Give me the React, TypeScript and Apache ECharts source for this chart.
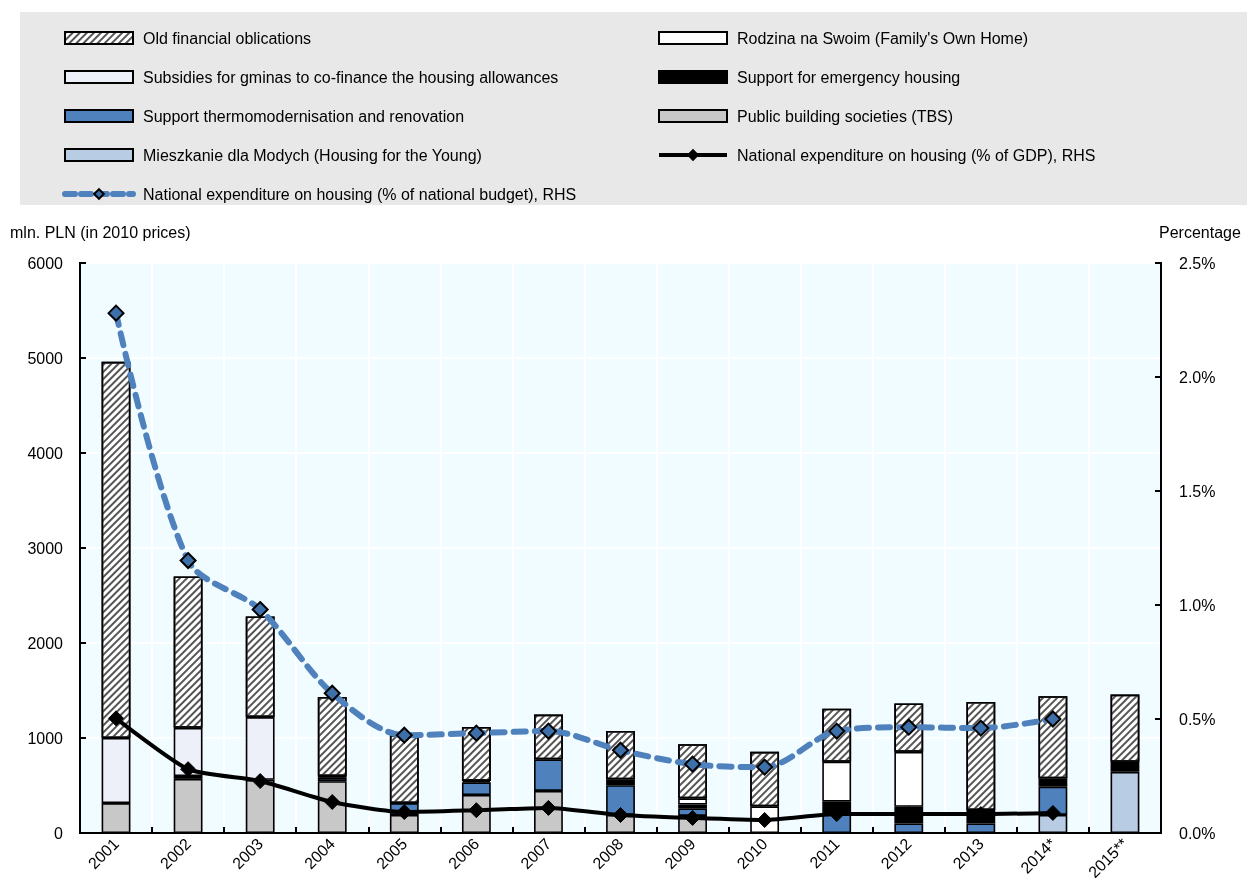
import React, { useEffect, useRef } from "react";
import * as echarts from "echarts";

const categories = ["2001", "2002", "2003", "2004", "2005", "2006", "2007", "2008", "2009", "2010", "2011", "2012", "2013", "2014*", "2015**"];

const tbs = [315, 570, 560, 545, 190, 400, 443, 190, 180, null, null, null, null, null, null];
const mieszkanie = [null, null, null, null, null, null, null, null, null, null, null, null, null, 190, 644];
const thermo = [null, 30, null, 35, 125, 133, 331, 313, 80, null, 220, 100, 100, 297, null];
const emergency = [null, null, null, null, null, null, null, 63, 40, null, 110, 176, 142, 88, 105];
const rodzina = [null, null, null, null, null, null, null, null, 64, 280, 420, 578, null, null, null];
const subsidies = [685, 507, 660, 20, null, 15, null, null, null, null, null, null, null, null, null];
const oldObligations = [3960, 1593, 1060, 832, 715, 569, 473, 509, 571, 574, 558, 509, 1138, 865, 708];

const pctGDP = [0.503, 0.28, 0.228, 0.136, 0.092, 0.1, 0.11, 0.079, 0.066, 0.057, 0.083, 0.083, 0.083, 0.088, null];
const pctBudget = [2.28, 1.195, 0.98, 0.613, 0.429, 0.438, 0.447, 0.363, 0.302, 0.289, 0.447, 0.464, 0.46, 0.5, null];

const leftTicks = { min: 0, max: 6000, interval: 1000 };
const rightTicks = { min: 0, max: 2.5, interval: 0.5 };

const FONT = "'Liberation Sans', Arial, sans-serif";

const N_OLD = "Old financial oblications";
const N_SUB = "Subsidies for gminas to co-finance the housing allowances";
const N_THERMO = "Support thermomodernisation and renovation";
const N_MDM = "Mieszkanie dla Modych (Housing for the Young)";
const N_BUDGET = "National expenditure on housing (% of national budget), RHS";
const N_ROD = "Rodzina na Swoim (Family's Own Home)";
const N_EMER = "Support for emergency housing";
const N_TBS = "Public building societies (TBS)";
const N_GDP = "National expenditure on housing (% of GDP), RHS";

const hatch = {
  symbol: "rect",
  symbolSize: 1,
  dashArrayX: [1, 0],
  dashArrayY: [2, 3],
  rotation: -Math.PI / 4,
  color: "#555555",
  backgroundColor: "#FFFFFF",
};

function bar(name: string, data: (number | null)[], color: string, extra: any = {}) {
  return {
    name,
    type: "bar",
    stack: "total",
    barWidth: "40%",
    data,
    itemStyle: { color, borderColor: "#000", borderWidth: 1.6, ...extra },
  };
}

export default function App() {
  const ref = useRef<HTMLDivElement>(null);
  useEffect(() => {
    if (!ref.current) return;
    const chart = echarts.init(ref.current, null, { renderer: "svg" });
    const legendText = { fontFamily: FONT, fontSize: 16, color: "#000", lineHeight: 16, padding: [0, 0, 0, 5] };
    const option: any = {
      animation: false,
      textStyle: { fontFamily: FONT },
      graphic: [
        { type: "rect", z: -10, shape: { x: 20, y: 12, width: 1227, height: 193 }, style: { fill: "#E8E8E8" } },
        { type: "text", x: 10, y: 232, style: { text: "mln. PLN (in 2010 prices)", font: `16px ${FONT}`, fill: "#000", verticalAlign: "middle" } },
        { type: "text", x: 1159, y: 232, style: { text: "Percentage", font: `16px ${FONT}`, fill: "#000", verticalAlign: "middle" } },
      ],
      legend: [
        {
          orient: "vertical",
          left: 57,
          top: 25,
          itemWidth: 68,
          itemHeight: 12,
          itemGap: 23,
          textStyle: legendText,
          data: [
            { name: N_OLD, icon: "rect" },
            { name: N_SUB, icon: "rect" },
            { name: N_THERMO, icon: "rect" },
            { name: N_MDM, icon: "rect" },
            { name: N_BUDGET, lineStyle: { width: 6, type: [10, 6] } },
          ],
        },
        {
          orient: "vertical",
          left: 652,
          top: 25,
          itemWidth: 68,
          itemHeight: 12,
          itemGap: 23,
          textStyle: legendText,
          data: [
            { name: N_ROD, icon: "rect" },
            { name: N_EMER, icon: "rect" },
            { name: N_TBS, icon: "rect" },
            { name: N_GDP, lineStyle: { width: 4 } },
          ],
        },
      ],
      grid: {
        left: 80,
        right: 91,
        top: 263,
        bottom: 51,
        show: true,
        backgroundColor: "#F0FCFF",
        borderColor: "#000",
        borderWidth: 2,
      },
      xAxis: {
        type: "category",
        data: categories,
        boundaryGap: true,
        axisLine: { lineStyle: { color: "#000", width: 2 } },
        axisTick: { show: true, inside: true, length: 6, lineStyle: { color: "#000", width: 2 } },
        splitLine: { show: true, lineStyle: { color: "#FFFFFF", width: 2 } },
        axisLabel: { rotate: 45, interval: 0, fontSize: 16, color: "#000", margin: 8, fontFamily: FONT },
      },
      yAxis: [
        {
          type: "value",
          ...leftTicks,
          axisLine: { show: true, lineStyle: { color: "#000", width: 2 } },
          axisTick: { show: true, inside: true, length: 6, lineStyle: { color: "#000", width: 2 } },
          splitLine: { show: true, lineStyle: { color: "#FFFFFF", width: 2 } },
          axisLabel: { fontSize: 16, color: "#000", margin: 17, fontFamily: FONT, formatter: (v: number) => String(v) },
        },
        {
          type: "value",
          ...rightTicks,
          axisLine: { show: true, lineStyle: { color: "#000", width: 2 } },
          axisTick: { show: true, inside: true, length: 6, lineStyle: { color: "#000", width: 2 } },
          splitLine: { show: false },
          axisLabel: {
            fontSize: 16,
            color: "#000",
            margin: 18,
            fontFamily: FONT,
            formatter: (v: number) => `${v.toFixed(1)}%`,
          },
        },
      ],
      series: [
        bar(N_TBS, tbs, "#C8C8C8"),
        bar(N_MDM, mieszkanie, "#B8CCE4"),
        bar(N_THERMO, thermo, "#4F81BD"),
        bar(N_EMER, emergency, "#000000"),
        bar(N_ROD, rodzina, "#FFFFFF"),
        bar(N_SUB, subsidies, "#EEF0F9"),
        bar(N_OLD, oldObligations, "#FFFFFF", { decal: hatch }),
        {
          name: N_GDP,
          type: "line",
          yAxisIndex: 1,
          data: pctGDP,
          smooth: 0.2,
          symbol: "diamond",
          symbolSize: 15,
          lineStyle: { color: "#000", width: 4 },
          itemStyle: { color: "#000", borderColor: "#000", borderWidth: 1 },
          z: 5,
        },
        {
          name: N_BUDGET,
          type: "line",
          yAxisIndex: 1,
          data: pctBudget,
          smooth: 0.3,
          symbol: "diamond",
          symbolSize: 15,
          lineStyle: { color: "#4F81BD", width: 6, type: [12, 9], cap: "round" },
          itemStyle: { color: "#3D6FA8", borderColor: "#000", borderWidth: 2 },
          z: 6,
        },
      ],
    };
    chart.setOption(option);
    return () => chart.dispose();
  }, []);
  return <div ref={ref} style={{ position: "fixed", left: 0, top: 0, width: 1252, height: 884 }} />;
}
